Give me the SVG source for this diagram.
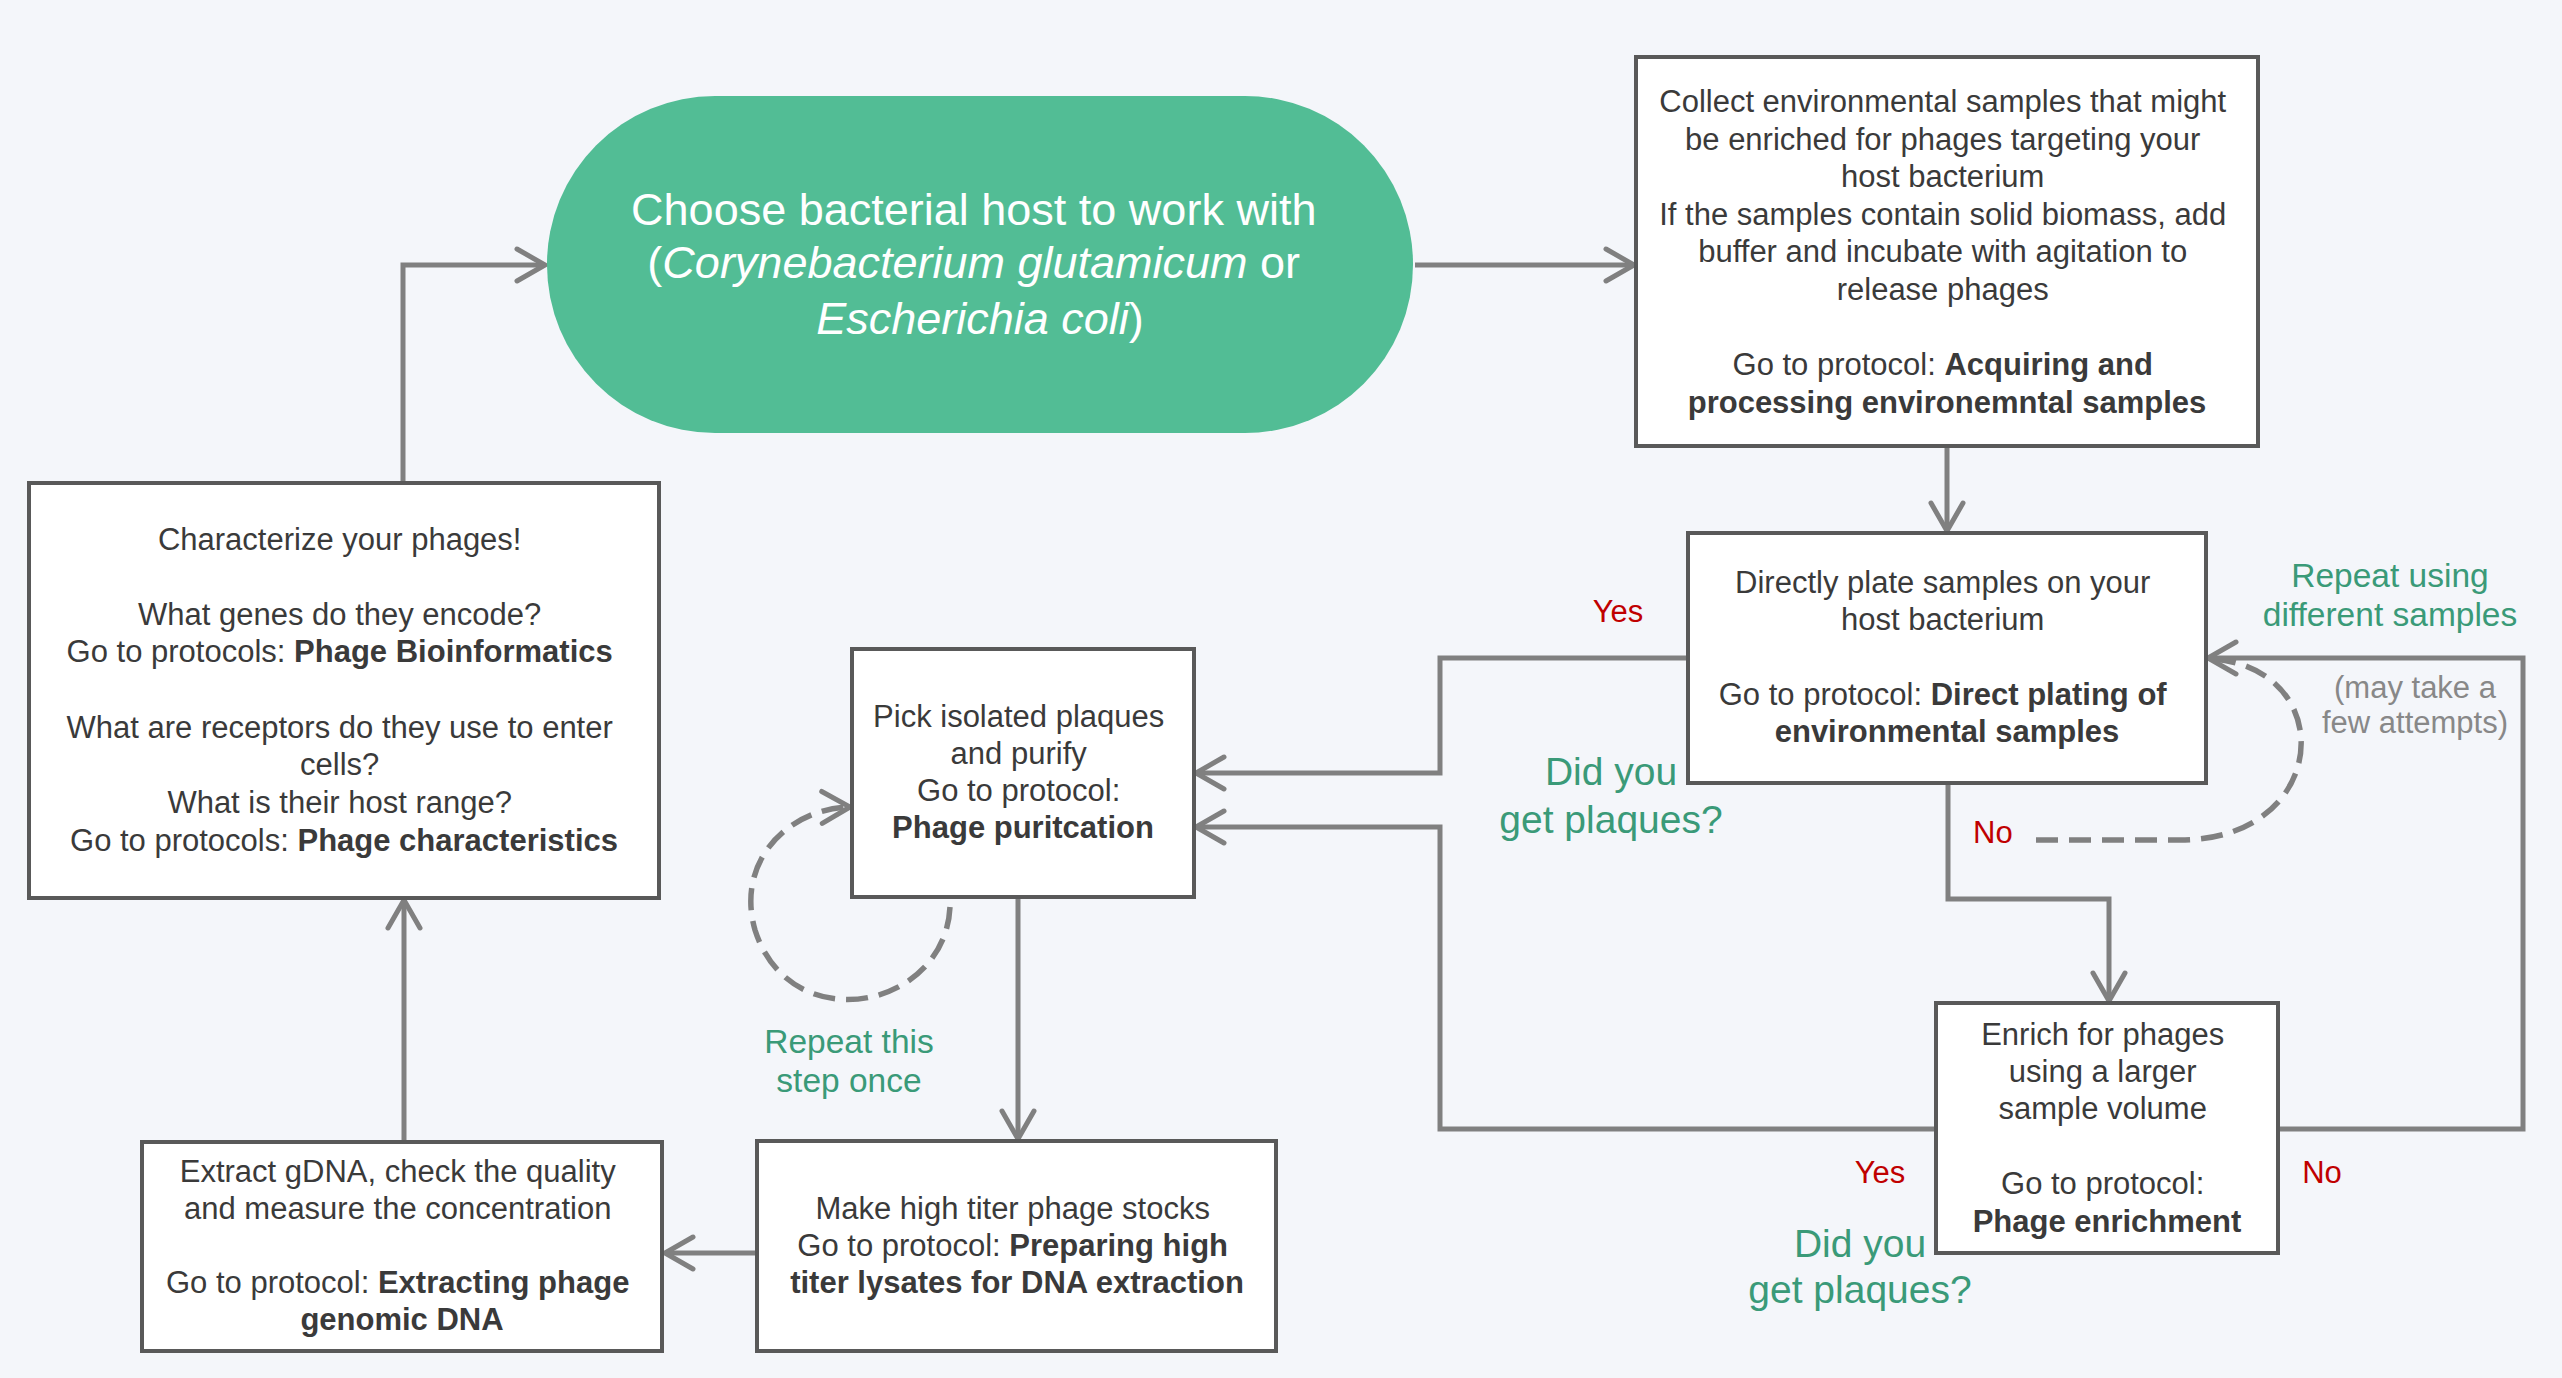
<svg xmlns="http://www.w3.org/2000/svg" width="2562" height="1378" viewBox="0 0 2562 1378">
<defs>
<style>
text{font-family:"Liberation Sans",Arial,Helvetica,sans-serif;}
.box{fill:#ffffff;stroke:#595959;stroke-width:4;}
.t{font-size:31px;fill:#3a3a3a;text-anchor:middle;}
.b{font-weight:bold;}
.pill{font-size:45px;fill:#ffffff;text-anchor:middle;}
.i{font-style:italic;}
.con{fill:none;stroke:#808080;stroke-width:5;}
.dash{fill:none;stroke:#808080;stroke-width:5.5;stroke-dasharray:22 11;}
.red{font-size:31px;fill:#c00000;}
.green{fill:#3a9a78;text-anchor:middle;}
.note{font-size:31px;fill:#888888;text-anchor:middle;}
</style>
<marker id="arr" markerUnits="userSpaceOnUse" markerWidth="44" markerHeight="44" viewBox="-36 -22 44 44" refX="0" refY="0" orient="auto" overflow="visible">
<path d="M -28 -16 L 0 0 L -28 16" fill="none" stroke="#808080" stroke-width="5" stroke-linecap="round" stroke-linejoin="miter"/>
</marker>
</defs>
<rect x="0" y="0" width="2562" height="1378" fill="#f4f6fa"/>

<g id="connectors">
<path class="con" d="M 403 483 V 265 H 545" marker-end="url(#arr)"/>
<path class="con" d="M 1415 265 H 1634" marker-end="url(#arr)"/>
<path class="con" d="M 1947 446 V 531" marker-end="url(#arr)"/>
<path class="con" d="M 1688 658 H 1440 V 773 H 1196" marker-end="url(#arr)"/>
<path class="con" d="M 1948 783 V 899 H 2109 V 1001" marker-end="url(#arr)"/>
<path class="con" d="M 2278 1129 H 2523 V 658 H 2208" marker-end="url(#arr)"/>
<path class="con" d="M 1936 1129 H 1440 V 827 H 1196" marker-end="url(#arr)"/>
<path class="con" d="M 1018 897 V 1139" marker-end="url(#arr)"/>
<path class="con" d="M 757 1253 H 665" marker-end="url(#arr)"/>
<path class="con" d="M 404 1142 V 900" marker-end="url(#arr)"/>
<path class="dash" d="M 2036 840 L 2180 840 C 2330 840, 2340 670, 2214 659"/>
<path class="dash" d="M 950 907 C 945 1010, 790 1040, 755 930 C 735 860, 790 808, 850 807" marker-end="url(#arr)"/>
</g>

<g id="node-host">
<rect x="547" y="96" width="866" height="337" rx="168" ry="168" fill="#52bd95"/>
<text class="pill">
<tspan x="980" y="225">Choose bacterial host to work with</tspan>
<tspan x="980" y="278">(<tspan class="i">Corynebacterium glutamicum</tspan> or</tspan>
<tspan x="980" y="334"><tspan class="i">Escherichia coli</tspan>)</tspan>
</text>
</g>

<g id="node-collect">
<rect class="box" x="1636" y="57" width="622" height="389"/>
<text class="t">
<tspan x="1947" y="112">Collect environmental samples that might</tspan>
<tspan x="1947" y="149.6">be enriched for phages targeting your</tspan>
<tspan x="1947" y="187.2">host bacterium</tspan>
<tspan x="1947" y="224.8">If the samples contain solid biomass, add</tspan>
<tspan x="1947" y="262.4">buffer and incubate with agitation to</tspan>
<tspan x="1947" y="300">release phages</tspan>
<tspan x="1947" y="375.2">Go to protocol: <tspan class="b">Acquiring and</tspan></tspan>
<tspan x="1947" y="412.8" class="b">processing environemntal samples</tspan>
</text>
</g>

<g id="node-direct">
<rect class="box" x="1688" y="533" width="518" height="250"/>
<text class="t">
<tspan x="1947" y="593">Directly plate samples on your</tspan>
<tspan x="1947" y="630">host bacterium</tspan>
<tspan x="1947" y="705">Go to protocol: <tspan class="b">Direct plating of</tspan></tspan>
<tspan x="1947" y="742" class="b">environmental samples</tspan>
</text>
</g>

<g id="node-enrich">
<rect class="box" x="1936" y="1003" width="342" height="250"/>
<text class="t">
<tspan x="2107" y="1045">Enrich for phages</tspan>
<tspan x="2107" y="1082">using a larger</tspan>
<tspan x="2107" y="1119">sample volume</tspan>
<tspan x="2107" y="1194">Go to protocol:</tspan>
<tspan x="2107" y="1232" class="b">Phage enrichment</tspan>
</text>
</g>

<g id="node-pick">
<rect class="box" x="852" y="649" width="342" height="248"/>
<text class="t">
<tspan x="1023" y="727">Pick isolated plaques</tspan>
<tspan x="1023" y="764">and purify</tspan>
<tspan x="1023" y="801">Go to protocol:</tspan>
<tspan x="1023" y="838" class="b">Phage puritcation</tspan>
</text>
</g>

<g id="node-characterize">
<rect class="box" x="29" y="483" width="630" height="415"/>
<text class="t">
<tspan x="344" y="550">Characterize your phages!</tspan>
<tspan x="344" y="625">What genes do they encode?</tspan>
<tspan x="344" y="662">Go to protocols: <tspan class="b">Phage Bioinformatics</tspan></tspan>
<tspan x="344" y="738">What are receptors do they use to enter</tspan>
<tspan x="344" y="775">cells?</tspan>
<tspan x="344" y="813">What is their host range?</tspan>
<tspan x="344" y="851">Go to protocols: <tspan class="b">Phage characteristics</tspan></tspan>
</text>
</g>

<g id="node-extract">
<rect class="box" x="142" y="1142" width="520" height="209"/>
<text class="t">
<tspan x="402" y="1182">Extract gDNA, check the quality</tspan>
<tspan x="402" y="1219">and measure the concentration</tspan>
<tspan x="402" y="1293">Go to protocol: <tspan class="b">Extracting phage</tspan></tspan>
<tspan x="402" y="1330" class="b">genomic DNA</tspan>
</text>
</g>

<g id="node-stocks">
<rect class="box" x="757" y="1141" width="519" height="210"/>
<text class="t">
<tspan x="1017" y="1219">Make high titer phage stocks</tspan>
<tspan x="1017" y="1256">Go to protocol: <tspan class="b">Preparing high</tspan></tspan>
<tspan x="1017" y="1293" class="b">titer lysates for DNA extraction</tspan>
</text>
</g>

<g id="labels">
<text class="red" x="1618" y="622" text-anchor="middle">Yes</text>
<text class="red" x="1973" y="843">No</text>
<text class="red" x="1880" y="1183" text-anchor="middle">Yes</text>
<text class="red" x="2322" y="1183" text-anchor="middle">No</text>
<text class="green" font-size="39"><tspan x="1611" y="785">Did you</tspan><tspan x="1611" y="833">get plaques?</tspan></text>
<text class="green" font-size="39"><tspan x="1860" y="1257">Did you</tspan><tspan x="1860" y="1303">get plaques?</tspan></text>
<text class="green" font-size="33.5"><tspan x="2390" y="587">Repeat using</tspan><tspan x="2390" y="626">different samples</tspan></text>
<text class="green" font-size="33.5"><tspan x="849" y="1053">Repeat this</tspan><tspan x="849" y="1092">step once</tspan></text>
<text class="note"><tspan x="2415" y="698">(may take a</tspan><tspan x="2415" y="733">few attempts)</tspan></text>
</g>
</svg>
